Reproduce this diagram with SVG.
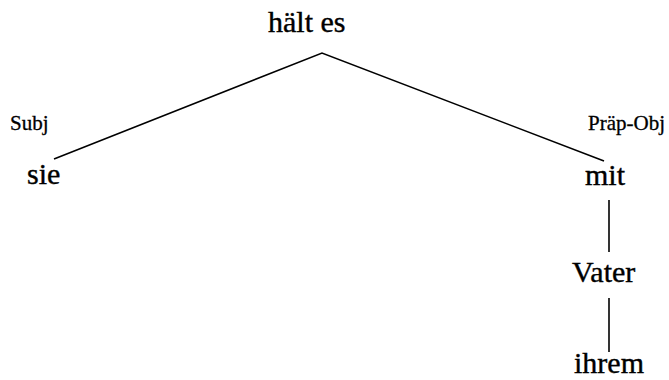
<svg xmlns="http://www.w3.org/2000/svg" width="669" height="380" viewBox="0 0 669 380">
<style>
.w{font-family:"Liberation Serif","Times New Roman",serif;font-size:30px;fill:#000;stroke:#000;stroke-width:0.4}
.l{font-family:"Liberation Serif","Times New Roman",serif;font-size:21px;fill:#000;stroke:#000;stroke-width:0.3}
.e{stroke:#000;stroke-width:1.6;fill:none}
</style>
<rect width="669" height="380" fill="#fff"/>
<g id="edges">
<polyline class="e" points="54,159 322,53 604,161"/>
<line class="e" x1="609" y1="200" x2="609" y2="252"/>
<line class="e" x1="609" y1="298" x2="609" y2="352"/>
</g>
<g id="n-haelt"><text class="w" x="268" y="32">hält es</text></g>
<g id="n-sie"><text class="w" x="27" y="184">sie</text></g>
<g id="n-mit"><text class="w" x="585" y="185">mit</text></g>
<g id="n-vater"><text class="w" x="572" y="282">Vater</text></g>
<g id="n-ihrem"><text class="w" x="574" y="373">ihrem</text></g>
<g id="labels">
<text class="l" x="10" y="130">Subj</text>
<text class="l" x="588" y="130">Präp-Obj</text>
</g>
</svg>
